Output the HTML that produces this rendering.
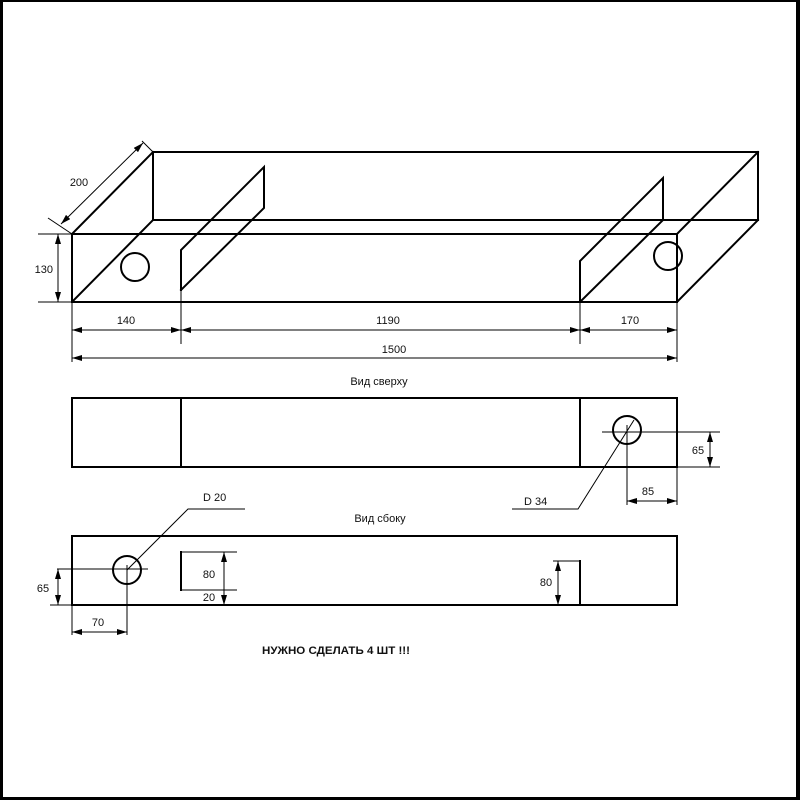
<!DOCTYPE html>
<html><head><meta charset="utf-8"><style>
html,body{margin:0;padding:0;background:#fff;}
svg{display:block;}
text{font-family:"Liberation Sans",Arial,sans-serif;font-size:11px;fill:#111;}
</style></head><body>
<svg width="800" height="800" viewBox="0 0 800 800" xmlns="http://www.w3.org/2000/svg">
<defs>
<marker id="a" viewBox="0 0 10 6" refX="10" refY="3" markerWidth="10" markerHeight="6" markerUnits="userSpaceOnUse" orient="auto-start-reverse"><path d="M0,0 L10,3 L0,6 z" fill="#000"/></marker>
</defs>
<rect x="0" y="0" width="800" height="800" fill="#fff"/>
<!-- frame -->
<rect x="0" y="0" width="800" height="2" fill="#000"/>
<rect x="0" y="0" width="3" height="800" fill="#000"/>
<rect x="796" y="0" width="4" height="800" fill="#000"/>
<rect x="0" y="797" width="800" height="3" fill="#000"/>

<g stroke="#000" stroke-width="2" fill="none" stroke-linecap="square">
<!-- iso box -->
<rect x="72" y="234" width="605" height="68"/>
<line x1="153" y1="152" x2="758" y2="152"/>
<line x1="153" y1="220" x2="758" y2="220"/>
<line x1="153" y1="152" x2="153" y2="220"/>
<line x1="758" y1="152" x2="758" y2="220"/>
<line x1="72" y1="234" x2="153" y2="152"/>
<line x1="72" y1="302" x2="153" y2="220"/>
<line x1="677" y1="234" x2="758" y2="152"/>
<line x1="677" y1="302" x2="758" y2="220"/>
<!-- left partition -->
<polyline points="181,290 181,250 264,167 264,208 181,290"/>
<!-- right partition -->
<polyline points="580,302 580,261 663,178 663,220"/>
<line x1="580" y1="302" x2="663" y2="220"/>
<circle cx="135" cy="267" r="14"/>
<circle cx="668" cy="256" r="14"/>
<!-- top view -->
<rect x="72" y="398" width="605" height="69"/>
<line x1="181" y1="398" x2="181" y2="467"/>
<line x1="580" y1="398" x2="580" y2="467"/>
<circle cx="627" cy="430" r="14"/>
<!-- side view -->
<rect x="72" y="536" width="605" height="69"/>
<circle cx="127" cy="570" r="14"/>
<line x1="181" y1="552" x2="181" y2="590"/>
<line x1="580" y1="561" x2="580" y2="605"/>
</g>

<g stroke="#000" stroke-width="1" fill="none">
<!-- 200 -->
<line x1="48" y1="218" x2="72" y2="234"/>
<line x1="142" y1="141" x2="153" y2="152"/>
<line x1="61" y1="224" x2="143" y2="143" marker-start="url(#a)" marker-end="url(#a)"/>
<!-- 130 -->
<line x1="38" y1="234" x2="72" y2="234"/>
<line x1="38" y1="302" x2="72" y2="302"/>
<line x1="58" y1="234" x2="58" y2="302" marker-start="url(#a)" marker-end="url(#a)"/>
<!-- extension lines bottom -->
<line x1="72" y1="302" x2="72" y2="362"/>
<line x1="181" y1="290" x2="181" y2="344"/>
<line x1="580" y1="302" x2="580" y2="344"/>
<line x1="677" y1="302" x2="677" y2="362"/>
<line x1="72" y1="330" x2="181" y2="330" marker-start="url(#a)" marker-end="url(#a)"/>
<line x1="181" y1="330" x2="580" y2="330" marker-start="url(#a)" marker-end="url(#a)"/>
<line x1="580" y1="330" x2="677" y2="330" marker-start="url(#a)" marker-end="url(#a)"/>
<line x1="72" y1="358" x2="677" y2="358" marker-start="url(#a)" marker-end="url(#a)"/>
<!-- top view dims -->
<line x1="602" y1="432" x2="720" y2="432"/>
<line x1="677" y1="467" x2="720" y2="467"/>
<line x1="710" y1="432" x2="710" y2="467" marker-start="url(#a)" marker-end="url(#a)"/>
<line x1="627" y1="425" x2="627" y2="505"/>
<line x1="677" y1="467" x2="677" y2="505"/>
<line x1="627" y1="501" x2="677" y2="501" marker-start="url(#a)" marker-end="url(#a)"/>
<polyline points="634,420 578,509 512,509"/>
<!-- side view dims -->
<polyline points="127,570 188,509 245,509"/>
<line x1="57" y1="569" x2="148" y2="569"/>
<line x1="127" y1="565" x2="127" y2="635"/>
<line x1="50" y1="605" x2="72" y2="605"/>
<line x1="58" y1="569" x2="58" y2="605" marker-start="url(#a)" marker-end="url(#a)"/>
<line x1="72" y1="605" x2="72" y2="635"/>
<line x1="72" y1="632" x2="127" y2="632" marker-start="url(#a)" marker-end="url(#a)"/>
<line x1="181" y1="552" x2="237" y2="552"/>
<line x1="181" y1="590" x2="237" y2="590"/>
<line x1="224" y1="552" x2="224" y2="605" marker-start="url(#a)" marker-end="url(#a)"/>
<line x1="553" y1="561" x2="580" y2="561"/>
<line x1="558" y1="561" x2="558" y2="605" marker-start="url(#a)" marker-end="url(#a)"/>
</g>

<g>
<text x="79" y="186" text-anchor="middle">200</text>
<text x="53" y="273" text-anchor="end">130</text>
<text x="126" y="324" text-anchor="middle">140</text>
<text x="388" y="324" text-anchor="middle">1190</text>
<text x="630" y="324" text-anchor="middle">170</text>
<text x="394" y="353" text-anchor="middle">1500</text>
<text x="379" y="385" text-anchor="middle">Вид сверху</text>
<text x="698" y="454" text-anchor="middle">65</text>
<text x="648" y="495" text-anchor="middle">85</text>
<text x="524" y="505">D 34</text>
<text x="203" y="501">D 20</text>
<text x="380" y="522" text-anchor="middle">Вид сбоку</text>
<text x="209" y="578" text-anchor="middle">80</text>
<text x="209" y="601" text-anchor="middle">20</text>
<text x="546" y="586" text-anchor="middle">80</text>
<text x="43" y="592" text-anchor="middle">65</text>
<text x="98" y="626" text-anchor="middle">70</text>
<text x="262" y="654" font-weight="bold" textLength="148" lengthAdjust="spacingAndGlyphs">НУЖНО СДЕЛАТЬ 4 ШТ !!!</text>
</g>
</svg>
</body></html>
